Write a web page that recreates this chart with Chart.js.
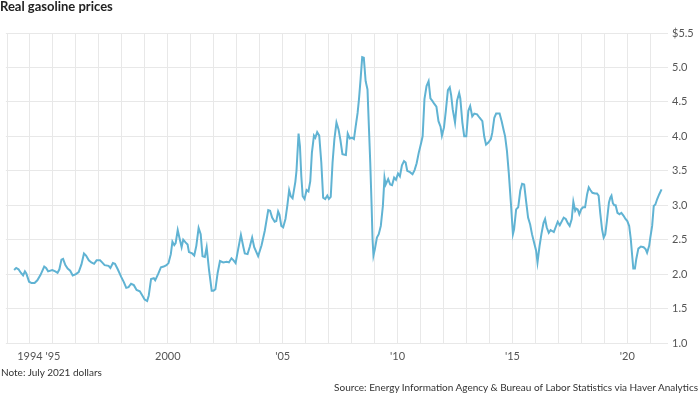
<!DOCTYPE html>
<html>
<head>
<meta charset="utf-8">
<script src="https://cdn.jsdelivr.net/npm/chart.js@4.4.1/dist/chart.umd.min.js"></script>
<style>
  html, body { margin: 0; padding: 0; background: #fff; }
  body { width: 700px; height: 394px; position: relative; overflow: hidden; font-family: Lato, "Open Sans", sans-serif; }
  #title { position: absolute; left: 0; top: 0; font-weight: 700; font-size: 13px; line-height: 13px; color: #222; z-index: 2; }
  #note { position: absolute; left: 1px; top: 366px; font-size: 10px; line-height: 12px; color: #333; z-index: 2; }
  #source { position: absolute; right: 2px; top: 381px; font-size: 10px; line-height: 12px; color: #333; z-index: 2; }
  #wrap { position: absolute; left: 0; top: 0; width: 700px; height: 394px; }
</style>
</head>
<body>
<div id="title">Real gasoline prices</div>
<div id="wrap"><canvas id="c" width="700" height="394"></canvas></div>
<div id="note">Note: July 2021 dollars</div>
<div id="source">Source: Energy Information Agency &amp; Bureau of Labor Statistics via Haver Analytics</div>
<script>
// Dates (decimal years) and real gasoline price ($, July 2021 dollars)
const dates = [
  1993.31,1993.40,1993.50,1993.60,1993.70,1993.78,1993.84,1993.96,1994.07,1994.20,
  1994.32,1994.46,1994.62,1994.70,1994.79,1994.97,1995.10,1995.20,1995.28,1995.37,
  1995.44,1995.54,1995.64,1995.75,1995.86,1996.00,1996.12,1996.24,1996.35,1996.44,
  1996.56,1996.67,1996.79,1996.90,1997.05,1997.14,1997.25,1997.42,1997.50,1997.61,
  1997.70,1997.82,1997.97,1998.09,1998.19,1998.29,1998.40,1998.52,1998.64,1998.78,
  1998.87,1998.99,1999.10,1999.17,1999.27,1999.39,1999.45,1999.59,1999.70,1999.82,
  1999.94,2000.03,2000.13,2000.20,2000.28,2000.34,2000.43,2000.51,2000.60,2000.67,
  2000.77,2000.86,2000.92,2001.06,2001.15,2001.24,2001.34,2001.43,2001.51,2001.61,
  2001.69,2001.79,2001.91,2001.99,2002.07,2002.17,2002.27,2002.41,2002.56,2002.66,
  2002.77,2002.86,2002.95,2003.06,2003.18,2003.29,2003.35,2003.47,2003.57,2003.67,
  2003.76,2003.93,2004.08,2004.22,2004.37,2004.45,2004.54,2004.65,2004.72,2004.80,
  2004.86,2004.94,2005.02,2005.12,2005.20,2005.28,2005.35,2005.43,2005.55,2005.60,
  2005.69,2005.75,2005.81,2005.87,2005.95,2006.04,2006.12,2006.20,2006.27,2006.36,
  2006.42,2006.50,2006.59,2006.68,2006.76,2006.85,2006.94,2007.01,2007.09,2007.17,
  2007.25,2007.34,2007.43,2007.51,2007.60,2007.75,2007.83,2007.92,2008.01,2008.10,
  2008.17,2008.26,2008.32,2008.39,2008.46,2008.53,2008.61,2008.69,2008.75,2008.81,
  2008.87,2008.91,2008.95,2009.01,2009.10,2009.18,2009.27,2009.36,2009.43,2009.48,
  2009.59,2009.68,2009.76,2009.85,2009.93,2010.02,2010.10,2010.19,2010.28,2010.35,
  2010.42,2010.54,2010.65,2010.74,2010.83,2010.92,2011.03,2011.09,2011.17,2011.26,
  2011.35,2011.43,2011.52,2011.60,2011.69,2011.78,2011.87,2011.93,2012.02,2012.10,
  2012.19,2012.27,2012.33,2012.40,2012.50,2012.59,2012.68,2012.73,2012.82,2012.90,
  2012.99,2013.08,2013.16,2013.25,2013.34,2013.46,2013.57,2013.69,2013.77,2013.85,
  2013.95,2014.06,2014.12,2014.21,2014.29,2014.44,2014.53,2014.61,2014.68,2014.76,
  2014.84,2014.93,2015.02,2015.07,2015.16,2015.25,2015.34,2015.42,2015.51,2015.60,
  2015.68,2015.77,2015.85,2015.94,2016.03,2016.09,2016.18,2016.26,2016.35,2016.42,
  2016.49,2016.58,2016.66,2016.80,2016.97,2017.06,2017.23,2017.32,2017.41,2017.49,
  2017.58,2017.65,2017.73,2017.78,2017.84,2017.91,2017.99,2018.07,2018.16,2018.25,
  2018.32,2018.39,2018.48,2018.59,2018.68,2018.75,2018.82,2018.90,2018.97,2019.04,
  2019.11,2019.20,2019.26,2019.31,2019.37,2019.43,2019.49,2019.57,2019.66,2019.74,
  2019.83,2019.92,2020.00,2020.08,2020.15,2020.21,2020.26,2020.33,2020.39,2020.48,
  2020.59,2020.71,2020.80,2020.86,2020.95,2021.00,2021.08,2021.15,2021.22,2021.30,
  2021.39,2021.49
];
const prices = [
  2.06,2.09,2.07,2.02,1.98,2.04,2.01,1.89,1.87,1.87,
  1.91,1.99,2.11,2.09,2.04,2.06,2.04,2.02,2.07,2.21,
  2.22,2.13,2.08,2.05,1.98,2.00,2.03,2.14,2.30,2.27,
  2.20,2.17,2.15,2.20,2.20,2.17,2.13,2.12,2.09,2.16,
  2.15,2.07,1.96,1.88,1.80,1.81,1.86,1.84,1.77,1.75,
  1.70,1.63,1.61,1.69,1.93,1.94,1.91,2.01,2.10,2.11,
  2.13,2.16,2.29,2.47,2.42,2.45,2.64,2.52,2.39,2.50,
  2.46,2.43,2.32,2.30,2.27,2.41,2.67,2.58,2.26,2.25,
  2.39,2.07,1.76,1.76,1.78,2.02,2.19,2.17,2.18,2.17,
  2.23,2.20,2.16,2.36,2.57,2.39,2.30,2.29,2.40,2.53,
  2.39,2.26,2.42,2.63,2.93,2.92,2.82,2.76,2.77,2.91,
  2.86,2.70,2.68,2.80,2.99,3.22,3.13,3.10,3.34,3.50,
  4.04,3.86,3.42,3.13,3.09,3.22,3.20,3.35,3.76,4.01,
  3.98,4.06,4.01,3.62,3.11,3.09,3.14,3.09,3.12,3.62,
  3.96,4.20,4.10,3.95,3.74,3.73,4.04,3.97,3.98,3.96,
  4.13,4.34,4.54,4.83,5.15,5.14,4.80,4.68,4.15,3.62,
  2.99,2.51,2.27,2.36,2.53,2.58,2.70,2.99,3.40,3.30,
  3.38,3.30,3.29,3.40,3.37,3.46,3.42,3.58,3.64,3.62,
  3.50,3.48,3.45,3.51,3.61,3.76,3.91,4.00,4.54,4.73,
  4.80,4.55,4.51,4.47,4.43,4.22,4.14,4.01,4.13,4.37,
  4.67,4.71,4.60,4.39,4.20,4.52,4.63,4.55,4.20,4.00,
  4.00,4.37,4.44,4.29,4.33,4.32,4.27,4.22,4.00,3.88,
  3.91,3.96,4.05,4.27,4.33,4.33,4.22,4.10,4.00,3.79,
  3.47,3.04,2.58,2.65,2.94,2.97,3.21,3.31,3.30,3.04,
  2.82,2.72,2.58,2.46,2.34,2.17,2.41,2.58,2.74,2.80,
  2.68,2.60,2.64,2.61,2.76,2.71,2.82,2.80,2.74,2.70,
  2.80,3.05,2.92,2.95,2.94,2.87,2.94,2.97,2.97,3.16,
  3.26,3.22,3.18,3.17,3.17,3.14,2.89,2.65,2.53,2.58,
  2.77,3.04,3.11,3.14,3.03,3.00,3.00,2.89,2.87,2.89,
  2.85,2.80,2.77,2.70,2.51,2.27,2.08,2.08,2.22,2.37,
  2.40,2.39,2.36,2.31,2.41,2.53,2.70,2.99,3.01,3.09,
  3.16,3.23
];
const tickYears = [1993,1994,1995,1996,1997,1998,1999,2000,2001,2002,2003,2004,2005,2006,2007,2008,2009,2010,2011,2012,2013,2014,2015,2016,2017,2018,2019,2020,2021];
const tickLabels = {1994: "1994", 1995: "'95", 2000: "2000", 2005: "'05", 2010: "'10", 2015: "'15", 2020: "'20"};
const yTicks = [1.0,1.5,2.0,2.5,3.0,3.5,4.0,4.5,5.0,5.5];

const points = dates.map((d, i) => ({x: d, y: prices[i]}));
const gridColor = '#e8e8e8';
const tickFont = {family: 'Lato', size: 11};

new Chart(document.getElementById('c'), {
  type: 'line',
  data: {
    datasets: [{
      data: points,
      borderColor: '#60b3d3',
      borderWidth: 2,
      pointRadius: 0,
      tension: 0,
      fill: false
    }]
  },
  options: {
    responsive: false,
    animation: false,
    events: [],
    layout: { padding: { top: 33, left: 3.5, right: 0, bottom: 29 } },
    plugins: { legend: { display: false }, tooltip: { enabled: false } },
    scales: {
      x: {
        type: 'linear',
        min: 1992.95,
        max: 2021.77,
        afterBuildTicks: (s) => { s.ticks = tickYears.map(v => ({value: v})); },
        afterFit: (s) => { s.height = 22; },
        grid: { color: gridColor, lineWidth: 1, drawTicks: false },
        border: { display: false },
        ticks: {
          autoSkip: false, maxRotation: 0, padding: 7,
          color: '#555', font: tickFont,
          callback: (v) => tickLabels[v] || ''
        }
      },
      y: {
        position: 'right',
        min: 1, max: 5.5,
        afterBuildTicks: (s) => { s.ticks = yTicks.map(v => ({value: v})); },
        afterFit: (s) => { s.width = 32; },
        grid: { color: gridColor, lineWidth: 1, drawTicks: false },
        border: { display: false },
        ticks: {
          padding: 4, color: '#555', font: tickFont,
          callback: (v) => v === 5.5 ? '$5.5' : v.toFixed(1)
        }
      }
    }
  }
});
</script>
</body>
</html>
